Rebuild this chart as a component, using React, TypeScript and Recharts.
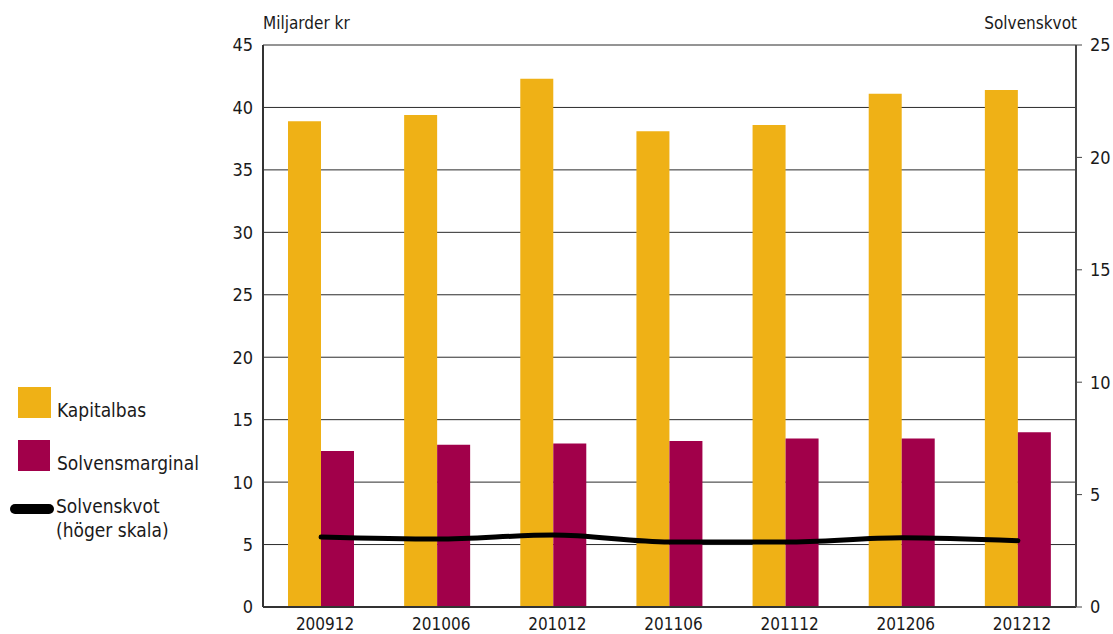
import {
  Bar,
  CartesianGrid,
  ComposedChart,
  Line,
  XAxis,
  YAxis,
} from "recharts";

const periods = ["200912", "201006", "201012", "201106", "201112", "201206", "201212"];
const kapitalbas = [38.9, 39.4, 42.3, 38.1, 38.6, 41.1, 41.4];
const solvensmarginal = [12.5, 13.0, 13.1, 13.3, 13.5, 13.5, 14.0];
const solvenskvot = [3.11, 3.02, 3.2, 2.89, 2.89, 3.08, 2.95];

const leftTicks = [0, 5, 10, 15, 20, 25, 30, 35, 40, 45];
const rightTicks = [0, 5, 10, 15, 20, 25];

const FONT = "'DejaVu Sans Condensed', 'DejaVu Sans', sans-serif";
const ORANGE = "#EFB116";
const CRIMSON = "#A1004A";
const INK = "#1a1a1a";

const data = periods.map((period, i) => ({
  period,
  kapitalbas: kapitalbas[i],
  solvensmarginal: solvensmarginal[i],
  solvenskvot: solvenskvot[i],
}));

/** Left-hand key: two swatches and the ratio line. */
function ChartKey() {
  return (
    <svg
      width={220}
      height={634}
      style={{ position: "absolute", left: 0, top: 0 }}
      fontFamily={FONT}
      fontSize={19}
      fill={INK}
    >
      <rect x={18} y={387} width={33} height={31} fill={ORANGE} />
      <text x={57} y={417}>Kapitalbas</text>
      <rect x={18} y={440} width={32} height={31} fill={CRIMSON} />
      <text x={57} y={470}>Solvensmarginal</text>
      <line x1={15} y1={509} x2={49} y2={509} stroke="#000" strokeWidth={10} strokeLinecap="round" />
      <text x={56} y={513}>Solvenskvot</text>
      <text x={56} y={537}>(höger skala)</text>
    </svg>
  );
}

export default function App() {
  return (
    <div style={{ position: "relative", width: 1113, height: 634, background: "#fff" }}>
      <style>{`body { margin: 0; }`}</style>
      <ChartKey />
      <svg
        width={1113}
        height={40}
        style={{ position: "absolute", left: 0, top: 0 }}
        fontFamily={FONT}
        fontSize={17}
        fill={INK}
      >
        <text x={263} y={29}>Miljarder kr</text>
        <text x={1077} y={29} textAnchor="end">Solvenskvot</text>
      </svg>
      <ComposedChart
        width={1113}
        height={634}
        data={data}
        margin={{ top: 45, right: 0, left: 203, bottom: 0 }}
        barCategoryGap={25}
        barGap={0}
        style={{ position: "absolute", left: 0, top: 0 }}
      >
        <CartesianGrid vertical={false} stroke="#2b2b2b" yAxisId="left" />
        <XAxis
          dataKey="period"
          height={27}
          tickLine={false}
          tickMargin={5}
          axisLine={{ stroke: "#333", strokeWidth: 2 }}
          tick={{ fontSize: 17, fontFamily: FONT, fill: INK, dx: 4 }}
        />
        <YAxis
          yAxisId="left"
          width={60}
          domain={[0, 45]}
          ticks={leftTicks}
          tickLine={false}
          tickMargin={4}
          axisLine={{ stroke: "#333", strokeWidth: 2 }}
          tick={{ fontSize: 18, fontFamily: FONT, fill: INK }}
        />
        <YAxis
          yAxisId="right"
          orientation="right"
          width={37}
          domain={[0, 25]}
          ticks={rightTicks}
          tickSize={6}
          tickMargin={8}
          axisLine={{ stroke: "#444", strokeWidth: 2 }}
          tickLine={{ stroke: "#444" }}
          tick={{ fontSize: 18, fontFamily: FONT, fill: INK }}
        />
        <Bar yAxisId="left" dataKey="kapitalbas" fill={ORANGE} isAnimationActive={false} />
        <Bar yAxisId="left" dataKey="solvensmarginal" fill={CRIMSON} isAnimationActive={false} />
        <Line
          yAxisId="right"
          type="monotone"
          dataKey="solvenskvot"
          stroke="#000"
          strokeWidth={5}
          strokeLinecap="round"
          dot={false}
          activeDot={false}
          isAnimationActive={false}
        />
      </ComposedChart>
    </div>
  );
}
